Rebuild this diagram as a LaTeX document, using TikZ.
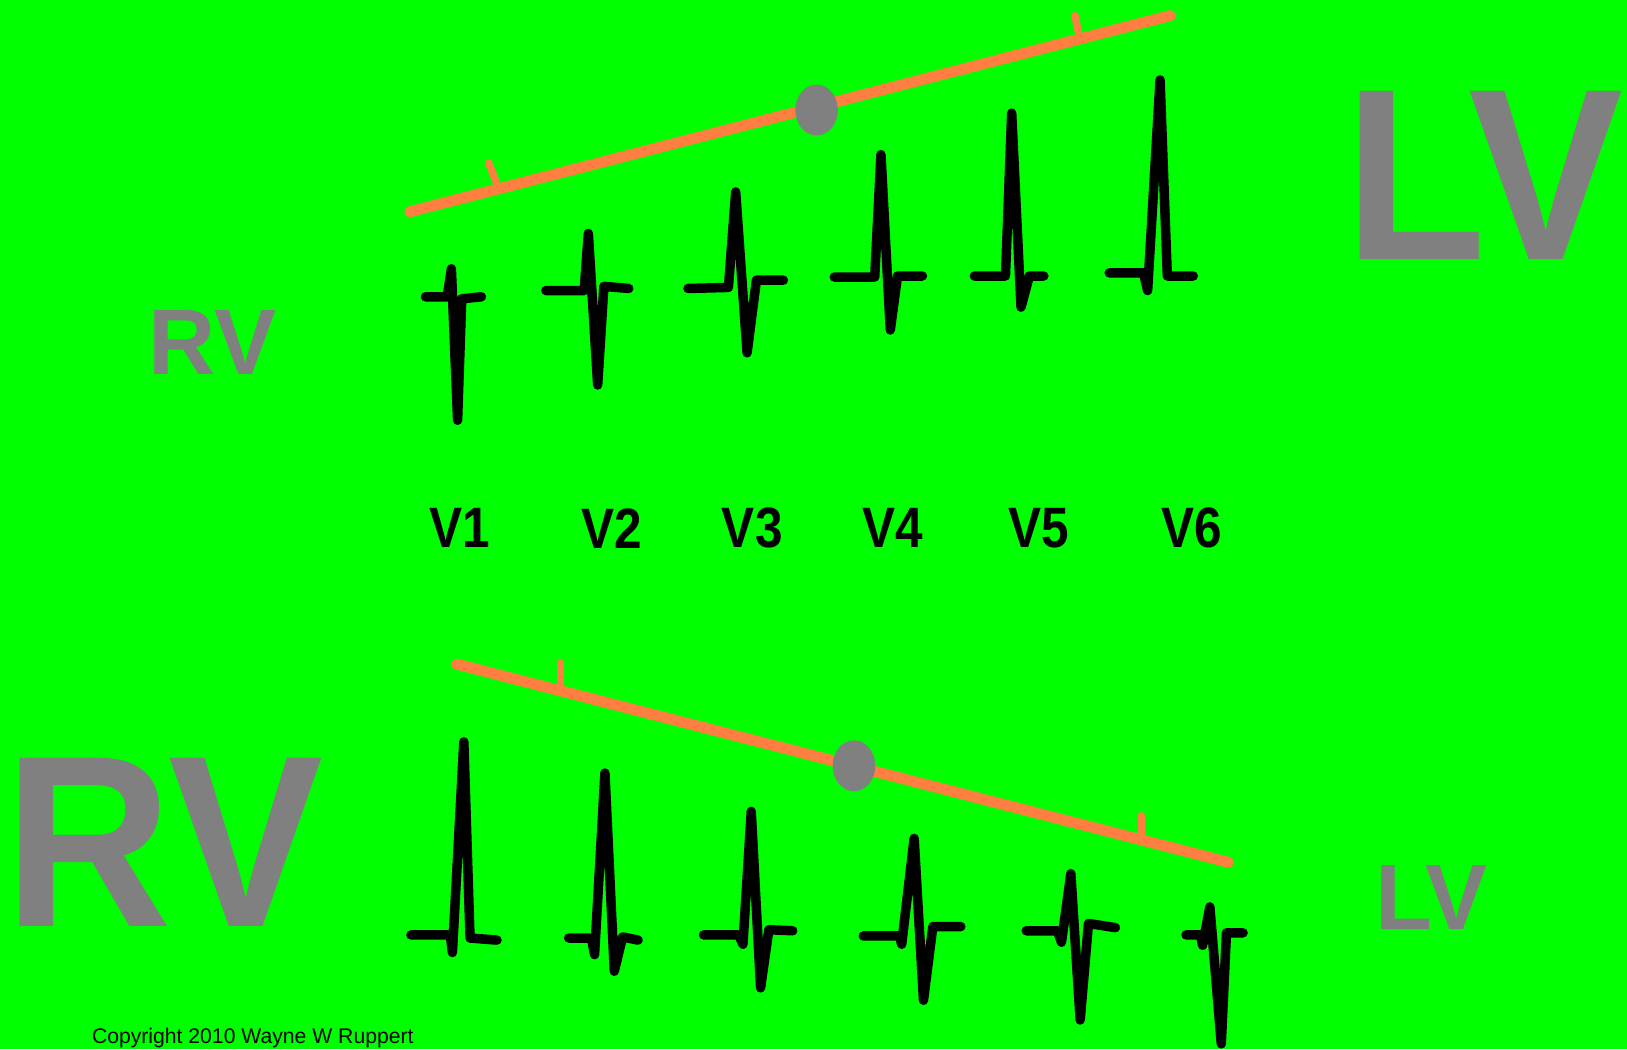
\documentclass[tikz,border=0pt]{standalone}
\usepackage{fontspec}
\setmainfont{Liberation Sans}
\newfontfamily\leadfont[FakeStretch=0.87]{Liberation Sans}
\newfontfamily\tagfont[FakeStretch=0.95]{Liberation Sans}
\usetikzlibrary{shapes.geometric}
\definecolor{bggreen}{HTML}{00FF00}
\definecolor{axorange}{HTML}{FF7F40}
\definecolor{taggray}{HTML}{808080}
\tikzset{
  ecgline/.style={line width=2.6pt,line cap=round,line join=round,black},
  axisline/.style={line width=3pt,line cap=round,axorange},
  axistick/.style={line width=2pt,line cap=round,axorange},
  axisknob/.style={ellipse,fill=taggray,minimum width=4.1mm,minimum height=4.9mm,inner sep=0pt},
  bigtag/.style={text=taggray,inner sep=0pt,font=\tagfont\bfseries\fontsize{67}{72}\selectfont},
  smalltag/.style={bigtag,font=\bfseries\fontsize{25.5}{28}\selectfont},
  leadtag/.style={inner sep=0pt,font=\leadfont\bfseries\fontsize{15.6}{18}\selectfont},
  credit/.style={inner sep=0pt,anchor=base west,font=\fontsize{5.8}{7}\selectfont},
}

\begin{document}
\begin{tikzpicture}[x=0.01cm,y=-0.01cm]
  \fill[bggreen] (0,0) rectangle (1568,1011);
  \useasboundingbox (0,0) rectangle (1568,1011);
  % chamber labels
  \node[smalltag] (rvTop) at (205,330) {RV};
  \node[bigtag] (lvTop) at (1430,169) {LV};
  \node[bigtag] (rvBot) at (158,812) {RV};
  \node[smalltag] (lvBot) at (1380,865) {LV};
  % lead labels
  \node[leadtag] (leadV1) at (443,509) {V1};
  \node[leadtag] (leadV2) at (590,509) {V2};
  \node[leadtag] (leadV3) at (725,509) {V3};
  \node[leadtag] (leadV4) at (860,509) {V4};
  \node[leadtag] (leadV5) at (1001,509) {V5};
  \node[leadtag] (leadV6) at (1149,509) {V6};
  % upper row of complexes
  \draw[ecgline] (410,286) -- (431,286) -- (435,259) -- (441,405) -- (445,288) -- (464,286);
  \draw[ecgline] (526,280) -- (563,280) -- (567,225) -- (576,371) -- (582,276) -- (606,278);
  \draw[ecgline] (663,278) -- (702,277) -- (709,185) -- (720,340) -- (729,270) -- (755,270);
  \draw[ecgline] (804,267) -- (843,267) -- (849,149) -- (858,318) -- (865,266) -- (889,266);
  \draw[ecgline] (939,266) -- (969,266) -- (975,109) -- (984,296) -- (992,266) -- (1006,266);
  \draw[ecgline] (1069,263) -- (1102,263) -- (1106,280) -- (1118,77) -- (1125,266) -- (1150,266);
  % lower row of complexes
  \draw[ecgline] (396,901) -- (434,901) -- (436,918) -- (447,715) -- (453,904) -- (479,906);
  \draw[ecgline] (548,904) -- (570,904) -- (573,920) -- (583,745) -- (592,936) -- (600,903) -- (615,906);
  \draw[ecgline] (678,901) -- (712,901) -- (716,910) -- (724,782) -- (733,952) -- (741,896) -- (764,897);
  \draw[ecgline] (832,902) -- (867,902) -- (869,910) -- (881,808) -- (890,964) -- (899,893) -- (926,893);
  \draw[ecgline] (989,897) -- (1019,897) -- (1023,908) -- (1032,842) -- (1041,983) -- (1049,890) -- (1075,894);
  \draw[ecgline] (1143,901) -- (1157,901) -- (1159,911) -- (1166,874) -- (1177,1006) -- (1182,899) -- (1198,899);
  % transition axes
  \coordinate (upL) at (395,204);
  \coordinate (upR) at (1128,15);
  \coordinate (lowL) at (440,640);
  \coordinate (lowR) at (1184,831);
  \draw[axisline] (upL) -- (upR);
  \draw[axistick] (471,157) -- (478,175);
  \draw[axistick] (1036,15) -- (1039,30);
  \draw[axisline] (lowL) -- (lowR);
  \draw[axistick] (540,639) -- (540,659);
  \draw[axistick] (1100,786) -- (1100,805);
  \node[axisknob] (upKnob) at (787,106) {};
  \node[axisknob] (lowKnob) at (823,738) {};
  \node[credit] (credit) at (88,1006) {Copyright 2010 Wayne W Ruppert};
\end{tikzpicture}
\end{document}
